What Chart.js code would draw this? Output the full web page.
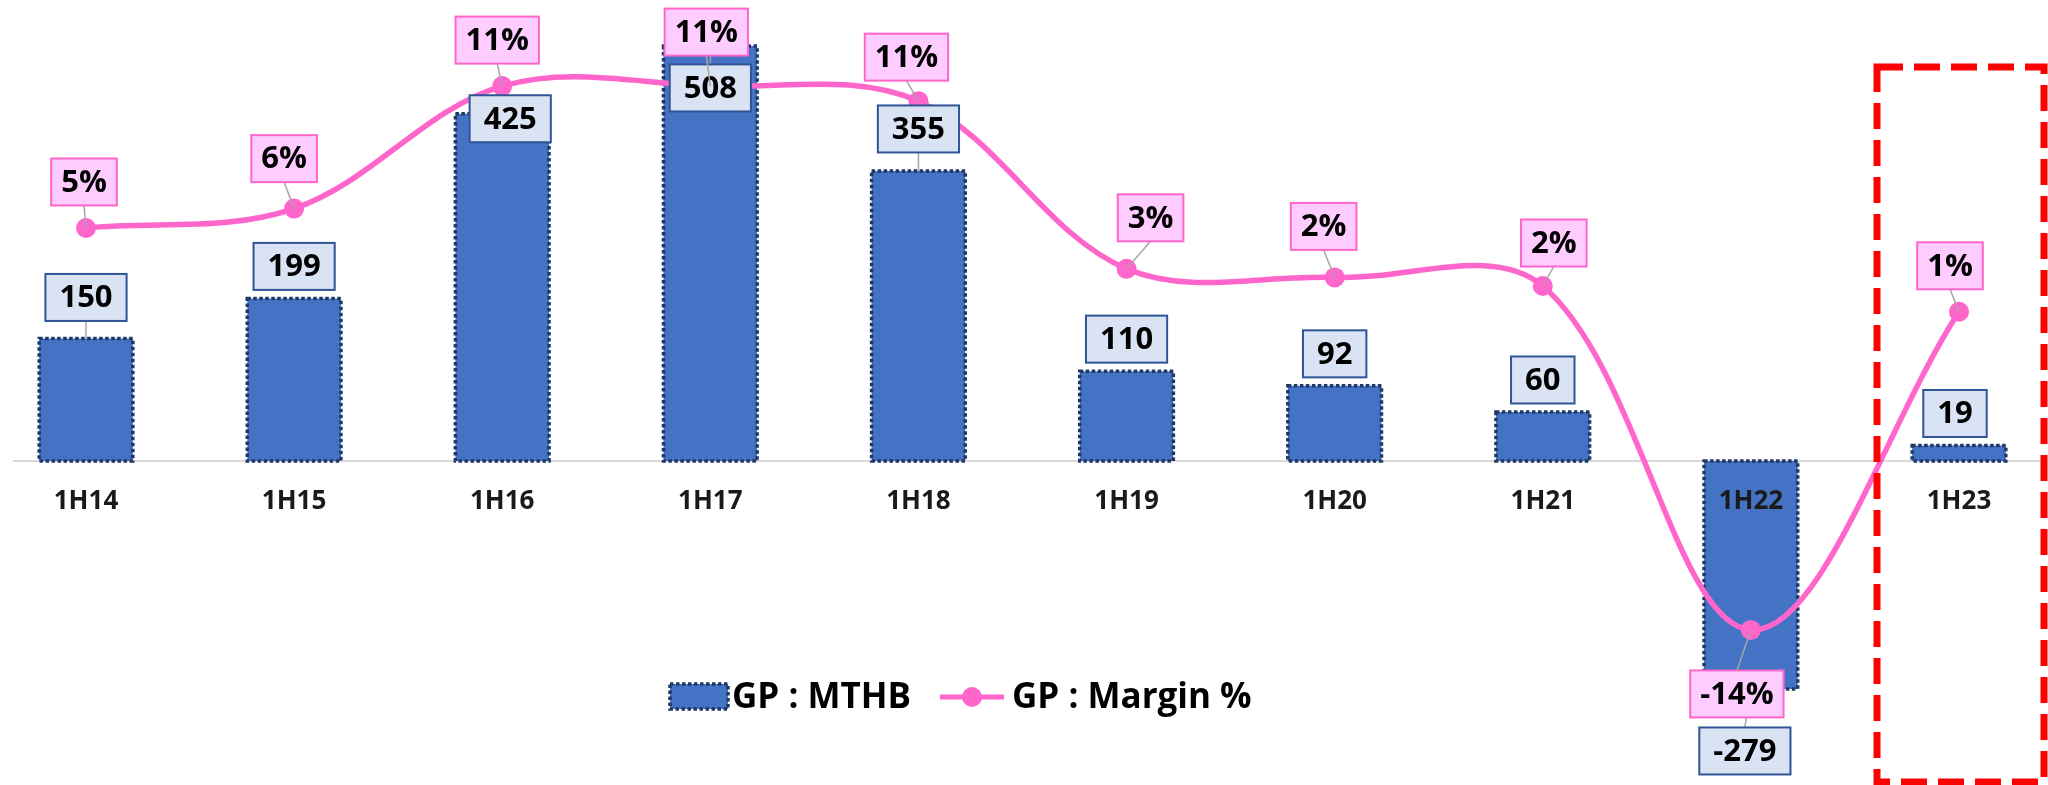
<!DOCTYPE html>
<html>
<head>
<meta charset="utf-8">
<script src="https://cdn.jsdelivr.net/npm/chart.js@4.4.1/dist/chart.umd.min.js"></script>
<style>
  html, body { margin: 0; padding: 0; background: #fff; }
  #wrap { width: 2048px; height: 785px; position: relative; }
</style>
</head>
<body>
<div id="wrap"><canvas id="gpChart"></canvas></div>
<script>
// Categories and series
const periods = ['1H14', '1H15', '1H16', '1H17', '1H18', '1H19', '1H20', '1H21', '1H22', '1H23'];
const gpMthb = [150, 199, 425, 508, 355, 110, 92, 60, -279, 19];
const gpMarginPct = [4.7, 5.6, 11.3, 11.3, 10.6, 2.8, 2.4, 2.0, -14.0, 0.8];

// Axis ranges (left: MTHB, right: margin %)
const mthbRange = { min: -292.5, max: 527.5 };
const marginRange = { min: -17.26, max: 13.91 };

// Data label nudges relative to each mark, [dx, dy] in px
const mthbLabelShift = [[0, -41], [0, -32], [8, 5], [0, 42], [0, -42], [0, -32], [0, -32], [0, -32], [-6, 62], [-4, -32]];
const marginLabelShift = [[-2, -46], [-10, -50], [-5, -46], [-4, -54], [-12, -44], [24, -51], [-11, -51], [11, -43], [-14, 64], [-9, -46]];

const FONT = "'Open Sans', 'Liberation Sans', sans-serif";
const BAR_BLUE = '#4472c4';
const BAR_EDGE = '#1f3864';
const PINK = '#ff66cc';
const BOX_H = 47;

function drawBox(ctx, text, cx, cy, padX, fill, stroke) {
    ctx.font = 'bold 31px ' + FONT;
    const w = ctx.measureText(text).width + padX * 2;
    ctx.setLineDash([]);
    ctx.fillStyle = fill;
    ctx.fillRect(cx - w / 2, cy - BOX_H / 2, w, BOX_H);
    ctx.strokeStyle = stroke;
    ctx.lineWidth = 2;
    ctx.strokeRect(cx - w / 2, cy - BOX_H / 2, w, BOX_H);
    ctx.fillStyle = '#000';
    ctx.textAlign = 'center';
    ctx.textBaseline = 'middle';
    ctx.fillText(text, cx, cy + 1);
}

function drawLeader(ctx, ax, ay, cx, cy) {
    const half = BOX_H / 2;
    if (ay > cy - half && ay < cy + half) return;
    const ey = cy < ay ? cy + half : cy - half;
    if (Math.abs(ay - ey) < 10) return;
    ctx.setLineDash([]);
    ctx.strokeStyle = '#a6a6a6';
    ctx.lineWidth = 1.5;
    ctx.beginPath();
    ctx.moveTo(cx, ey);
    ctx.lineTo(ax, ay);
    ctx.stroke();
}

const decorPlugin = {
    id: 'decor',
    beforeDatasetsDraw(chart) {
        // zero line across the plot
        const ctx = chart.ctx;
        const y0 = chart.scales.y.getPixelForValue(0);
        ctx.save();
        ctx.strokeStyle = '#d9d9d9';
        ctx.lineWidth = 2;
        ctx.beginPath();
        ctx.moveTo(13, y0);
        ctx.lineTo(chart.width - 4, y0);
        ctx.stroke();
        ctx.restore();
    },
    afterDatasetDraw(chart, args) {
        // dotted outline on bars
        if (args.meta.type !== 'bar') return;
        const ctx = chart.ctx;
        ctx.save();
        ctx.setLineDash([3.5, 2.5]);
        ctx.lineWidth = 3.5;
        ctx.strokeStyle = BAR_EDGE;
        args.meta.data.forEach(el => {
            const p = el.getProps(['x', 'y', 'base', 'width'], true);
            const top = Math.min(p.y, p.base);
            ctx.strokeRect(p.x - p.width / 2, top, p.width, Math.abs(p.base - p.y));
        });
        ctx.restore();
    },
    afterDatasetsDraw(chart) {
        const ctx = chart.ctx;
        const x = chart.scales.x;
        const y0 = chart.scales.y.getPixelForValue(0);
        ctx.save();

        // category labels under the zero line
        ctx.font = 'bold 26px ' + FONT;
        ctx.fillStyle = '#1a1a1a';
        ctx.textAlign = 'center';
        ctx.textBaseline = 'middle';
        periods.forEach((p, i) => ctx.fillText(p, x.getPixelForValue(i), y0 + 41));

        // bar value labels
        const bars = chart.getDatasetMeta(0).data;
        bars.forEach((el, i) => {
            const cx = el.x + mthbLabelShift[i][0], cy = el.y + mthbLabelShift[i][1];
            drawLeader(ctx, el.x, el.y, cx, cy);
        });
        bars.forEach((el, i) => {
            const cx = el.x + mthbLabelShift[i][0], cy = el.y + mthbLabelShift[i][1];
            drawBox(ctx, String(gpMthb[i]), cx, cy, 14, '#dae3f3', '#2f5597');
        });

        // margin labels
        const pts = chart.getDatasetMeta(1).data;
        pts.forEach((el, i) => {
            const cx = el.x + marginLabelShift[i][0], cy = el.y + marginLabelShift[i][1];
            drawLeader(ctx, el.x, el.y, cx, cy);
        });
        pts.forEach((el, i) => {
            const cx = el.x + marginLabelShift[i][0], cy = el.y + marginLabelShift[i][1];
            drawBox(ctx, Math.round(gpMarginPct[i]) + '%', cx, cy, 10, '#ffccff', PINK);
        });

        // highlight box around the latest period
        const lx = x.getPixelForValue(periods.length - 1);
        ctx.setLineDash([26, 11]);
        ctx.strokeStyle = '#ff0000';
        ctx.lineWidth = 7;
        ctx.strokeRect(lx - 82, 67, 167, 715);

        // legend
        ctx.setLineDash([]);
        ctx.fillStyle = BAR_BLUE;
        ctx.fillRect(670, 684, 58, 25);
        ctx.setLineDash([3.5, 2.5]);
        ctx.lineWidth = 3.5;
        ctx.strokeStyle = BAR_EDGE;
        ctx.strokeRect(670, 684, 58, 25);
        ctx.setLineDash([]);
        ctx.strokeStyle = PINK;
        ctx.lineWidth = 5;
        ctx.beginPath();
        ctx.moveTo(940, 697);
        ctx.lineTo(1004, 697);
        ctx.stroke();
        ctx.fillStyle = PINK;
        ctx.beginPath();
        ctx.arc(972, 697, 10, 0, Math.PI * 2);
        ctx.fill();
        ctx.font = 'bold 35px ' + FONT;
        ctx.fillStyle = '#000';
        ctx.textAlign = 'left';
        ctx.textBaseline = 'middle';
        ctx.fillText('GP : MTHB', 732, 698);
        ctx.fillText('GP : Margin %', 1012, 698);

        ctx.restore();
    }
};

const ctx = document.getElementById('gpChart').getContext('2d');
const gpChart = new Chart(ctx, {
    type: 'bar',
    data: {
        labels: periods,
        datasets: [{
            type: 'bar',
            label: 'GP : MTHB',
            data: gpMthb,
            backgroundColor: BAR_BLUE,
            borderWidth: 0,
            categoryPercentage: 0.9,
            barPercentage: 0.5,
            yAxisID: 'y',
            clip: false,
            order: 1
        }, {
            type: 'line',
            label: 'GP : Margin %',
            data: gpMarginPct,
            borderColor: PINK,
            borderWidth: 5.5,
            backgroundColor: PINK,
            pointBackgroundColor: PINK,
            pointBorderWidth: 0,
            pointRadius: 10,
            tension: 0.35,
            yAxisID: 'y1',
            clip: false,
            order: 0
        }]
    },
    options: {
        responsive: true,
        maintainAspectRatio: false,
        animation: false,
        layout: {
            padding: { left: 86, right: 89, top: 30, bottom: 85 }
        },
        plugins: {
            legend: { display: false },
            tooltip: { enabled: false }
        },
        scales: {
            x: { type: 'category', display: false, offset: false },
            y: { display: false, min: mthbRange.min, max: mthbRange.max },
            y1: { display: false, position: 'right', min: marginRange.min, max: marginRange.max }
        }
    },
    plugins: [decorPlugin]
});
</script>
</body>
</html>
